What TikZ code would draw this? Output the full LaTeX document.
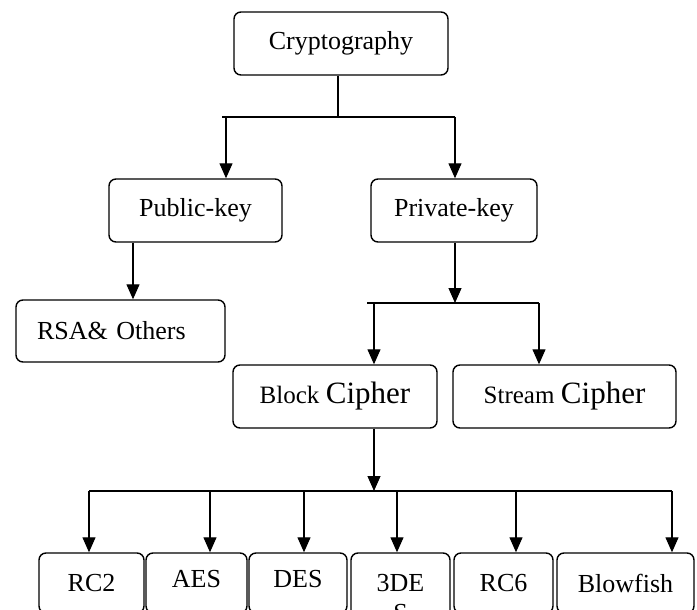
\documentclass[tikz,border=0pt]{standalone}
\usepackage{fontspec}
\setmainfont{Liberation Serif}
\usetikzlibrary{arrows.meta}
\begin{document}
\begin{tikzpicture}[x=1pt,y=-1pt,
  box/.style={draw, line width=1.4pt, rounded corners=7pt, inner sep=0pt,
    font=\fontsize{26}{30}\selectfont},
  leaf/.style={box, minimum height=60pt},
  raised/.style={text depth=8pt},
  conn/.style={line width=1.2pt},
  arr/.style={conn, -{Triangle[width=13pt,length=15pt]}}]
\useasboundingbox (0,0) rectangle (697,610);
\clip (0,0) rectangle (697,610);

% boxes
\node[box, minimum width=214pt, minimum height=63pt] (crypto) at (341,43.5) {Cryptography};
\node[box, minimum width=173pt, minimum height=63pt] (pub) at (195.5,210.5) {Public-key};
\node[box, minimum width=166pt, minimum height=63pt] (priv) at (454,210.5) {Private-key};
\node[box, minimum height=62pt, inner xsep=21pt, text width=167pt, align=left] (rsa) at (120.5,331) {RSA\& Others};
\node[box, minimum width=204pt, minimum height=63pt] (block) at (335,396.5)
  {{\fontsize{25}{30}\selectfont Block} {\fontsize{31}{36}\selectfont Cipher}};
\node[box, minimum width=223pt, minimum height=63pt] (stream) at (564.5,396.5)
  {{\fontsize{25}{30}\selectfont Stream} {\fontsize{31}{36}\selectfont Cipher}};

\node[leaf, minimum width=105pt] (rc2) at (91.5,583) {RC2};
\node[leaf, raised, minimum width=101pt] (aes) at (196.5,583) {AES};
\node[leaf, raised, minimum width=98pt] (des) at (298,583) {DES};
\node[box, minimum width=99pt, minimum height=90pt, align=center] (tdes) at (400.5,598) {3DE\\S};
\node[leaf, minimum width=99pt] (rc6) at (503.5,583) {RC6};
\node[leaf, minimum width=137pt] (blow) at (625.5,583) {Blowfish};

% level 1
\coordinate (j1) at (338,117);
\coordinate (bl1) at (222,117);
\coordinate (a1) at (226,117);
\coordinate (br1) at (455,117);
\draw[conn] (crypto.south -| j1) -- (j1);
\draw[conn] (bl1) -- (br1);
\draw[arr] (a1) -- (a1 |- pub.north);
\draw[arr] (br1) -- (br1 |- priv.north);

% public -> RSA
\coordinate (p1) at (133,260);
\draw[arr] (pub.south -| p1) -- (rsa.north -| p1);

% private -> block / stream
\coordinate (j2) at (455,303);
\coordinate (bl2) at (367,303);
\coordinate (a2) at (374,303);
\coordinate (br2) at (539,303);
\draw[arr] (priv.south -| j2) -- (j2);
\draw[conn] (bl2) -- (br2);
\draw[arr] (a2) -- (a2 |- block.north);
\draw[arr] (br2) -- (br2 |- stream.north);

% block -> algorithms
\coordinate (j3) at (374,491);
\coordinate (b1) at (89,491);
\coordinate (b2) at (210,491);
\coordinate (b3) at (304,491);
\coordinate (b4) at (397,491);
\coordinate (b5) at (516,491);
\coordinate (b6) at (672,491);
\draw[arr] (block.south -| j3) -- (j3);
\draw[conn] (b1) -- (b6);
\draw[arr] (b1) -- (b1 |- rc2.north);
\draw[arr] (b2) -- (b2 |- aes.north);
\draw[arr] (b3) -- (b3 |- des.north);
\draw[arr] (b4) -- (b4 |- tdes.north);
\draw[arr] (b5) -- (b5 |- rc6.north);
\draw[arr] (b6) -- (b6 |- blow.north);
\end{tikzpicture}
\end{document}
